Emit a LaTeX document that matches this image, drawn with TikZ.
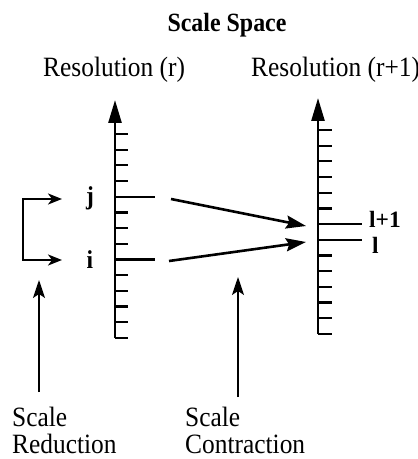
\documentclass[tikz,border=0pt]{standalone}
\usepackage{fontspec}
\setmainfont{Liberation Serif}
\usetikzlibrary{arrows.meta}
\newcommand{\tall}[1]{\scalebox{1}[1.1]{#1}}
\begin{document}
\begin{tikzpicture}[x=1bp,y=-1bp,
  axisline/.style={line width=2.6bp,-{Triangle[length=23bp,width=13bp]}},
  tickline/.style={line width=2.2bp},
  maparrow/.style={line width=2.6bp,-{Stealth[length=20bp,width=13bp,inset=3bp]}},
  pointer/.style={line width=1.6bp,-{Stealth[length=18bp,width=12bp,inset=4bp]}},
  bracketline/.style={line width=2bp,{Stealth[length=14bp,width=11bp,inset=4bp]}-{Stealth[length=14bp,width=11bp,inset=4bp]}},
  lbl/.style={inner sep=0pt,font=\fontsize{25.5}{27}\selectfont},
  idxb/.style={inner sep=0pt,font=\fontsize{23.5}{25}\selectfont\bfseries}]
\useasboundingbox (0,0) rectangle (417,459);

% titles
\node[inner sep=0pt,anchor=base,font=\fontsize{24}{26}\selectfont\bfseries] (title) at (227,32) {\tall{Scale Space}};
\node[lbl,anchor=base west] (resr) at (43,77) {\tall{Resolution (r)}};
\node[lbl,anchor=base west] (resr1) at (251,77) {\tall{Resolution (r+1)}};

% left axis
\coordinate (Lbot) at (115,338);
\coordinate (Ltop) at (115,100);
\draw[axisline] (Lbot) -- (Ltop);
\foreach \k in {0,...,13} \draw[tickline] (115,134+15.69*\k) -- ++(13,0);
\coordinate (jtick) at (115,196.8);
\coordinate (itick) at (115,259.5);
\coordinate (jend) at (155,196.8);
\coordinate (iend) at (155,259.5);
\draw[tickline] (jtick) -- (jend);
\draw[tickline] (itick) -- (iend);

% right axis
\coordinate (Rbot) at (318,334);
\coordinate (Rtop) at (318,98);
\draw[axisline] (Rbot) -- (Rtop);
\foreach \k in {0,...,13} \draw[tickline] (318,130+15.69*\k) -- ++(14,0);
\coordinate (l1tick) at (318,224.1);
\coordinate (ltick) at (318,239.8);
\coordinate (l1end) at (362,224.1);
\coordinate (lend) at (362,239.8);
\draw[tickline] (l1tick) -- (l1end);
\draw[tickline] (ltick) -- (lend);

% index labels
\node[idxb,anchor=base] (jl) at (90,205) {\tall{j}};
\node[idxb,anchor=base] (il) at (90,268) {\tall{i}};
\node[idxb,anchor=base west] (l1l) at (369,228) {l+1};
\node[idxb,anchor=base west] (ll) at (372,253) {l};

% contraction arrows
\coordinate (js) at (171,199);
\coordinate (is) at (169,261);
\coordinate (jt) at (306,226);
\coordinate (it) at (306,242);
\draw[maparrow] (js) -- (jt);
\draw[maparrow] (is) -- (it);

% bracket
\coordinate (brj) at (62,199);
\coordinate (bri) at (62,260);
\draw[bracketline] (brj) -- (23,199) -- (23,260) -- (bri);

% bottom labels and pointers
\node[lbl,anchor=base west,align=left] (red) at (12,453) {\tall{Scale}\\\tall{Reduction}};
\node[lbl,anchor=base west,align=left] (con) at (185,453) {\tall{Scale}\\\tall{Contraction}};
\coordinate (redbot) at (39,392);
\coordinate (redtip) at (39,280);
\coordinate (conbot) at (238,397);
\coordinate (contip) at (238,277);
\draw[pointer] (redbot) -- (redtip);
\draw[pointer] (conbot) -- (contip);
\end{tikzpicture}
\end{document}
